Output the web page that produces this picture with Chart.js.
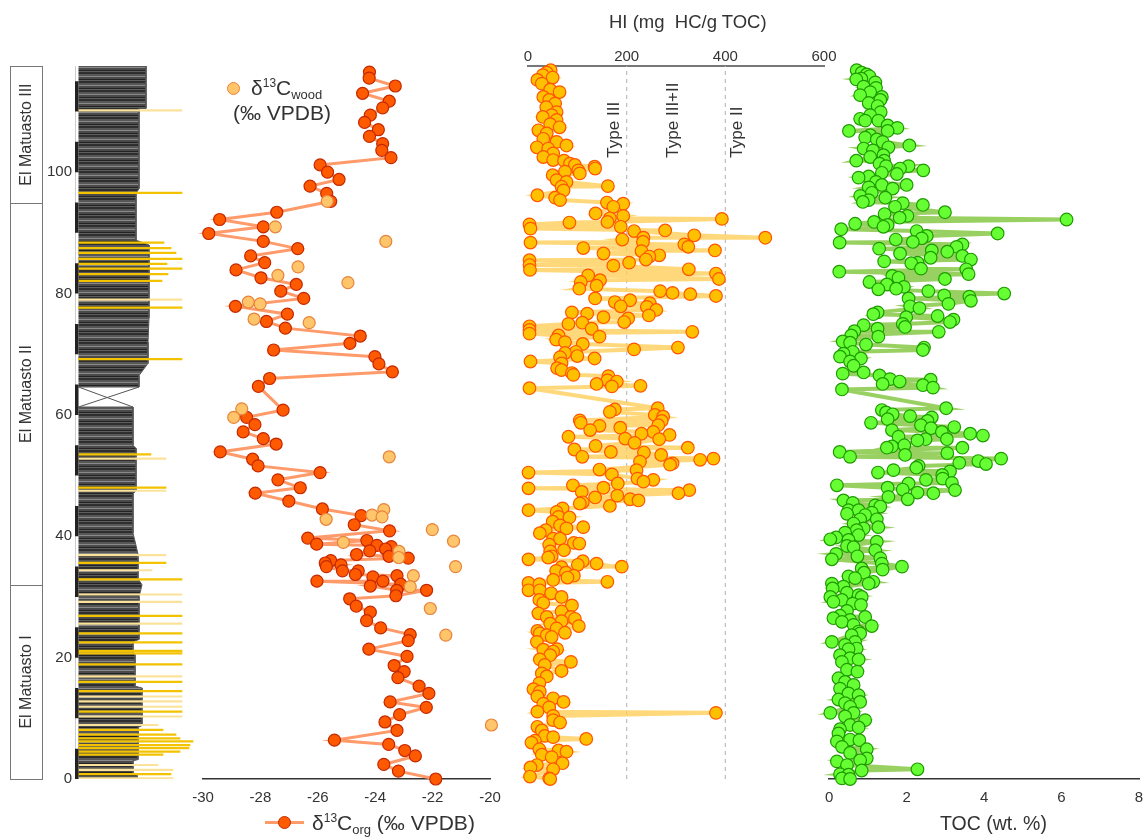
<!DOCTYPE html>
<html>
<head>
<meta charset="utf-8">
<script src="https://cdn.jsdelivr.net/npm/chart.js@4.4.0/dist/chart.umd.min.js"></script>
<style>
body { margin: 0; background: #fff; font-family: "Liberation Sans", Arial, sans-serif; color: #333; }
#page { position: relative; width: 1148px; height: 837px; overflow: hidden; }
canvas { position: absolute; top: 0; }
.lbl { position: absolute; font-size: 21px; color: #333; white-space: nowrap; line-height: 1; }
.lbl sup { font-size: 12px; vertical-align: 8px; }
.lbl sub { font-size: 13px; vertical-align: -4px; }
.dot { position: absolute; width: 11px; height: 11px; border-radius: 50%; }
</style>
</head>
<body>
<div id="page">
  <canvas id="lith" width="200" height="837" style="left:0px"></canvas>
  <canvas id="d13c" width="350" height="837" style="left:170px"></canvas>
  <canvas id="hi" width="340" height="837" style="left:500px"></canvas>
  <canvas id="toc" width="345" height="837" style="left:815px"></canvas>

  <div class="lbl" style="left:609px;top:13px;font-size:18.5px">HI (mg&nbsp; HC/g TOC)</div>
  <div class="lbl" style="left:940px;top:814px;font-size:19.5px">TOC (wt. %)</div>

  <div class="dot" style="left:227px;top:82px;background:#ffc56b;border:1px solid #e8843a"></div>
  <div class="lbl" style="left:251px;top:77px">δ<sup>13</sup>C<sub>wood</sub></div>
  <div class="lbl" style="left:233px;top:102px">(‰ VPDB)</div>

  <div style="position:absolute;left:265px;top:821px;width:39px;height:3px;background:#ff9a6a"></div>
  <div class="dot" style="left:278px;top:816px;background:#ff5a00;border:1px solid #c42800"></div>
  <div class="lbl" style="left:312px;top:812px">δ<sup>13</sup>C<sub>org</sub> (‰ VPDB)</div>
</div>

<script>
// depth scale (m)
var depthMin = 0;
var depthMax = 117.5;

// formations
var unitNames = ['El Matuasto I', 'El Matuasto II', 'El Matuasto III'];
var unitBase = [0, 32.0, 94.9];
var unitTop = [32.0, 94.9, 117.5];

// lithology column: weathering profile (relative units) vs depth
var profileUpperDepth = [117.5, 110.5, 110.5, 97.3, 96.5, 88.8, 88.0, 76.0, 72.0, 68.5, 66.5, 64.6];
var profileUpperWidth = [71, 71, 64, 64, 61, 61, 74, 74, 73, 73, 64, 64];
var profileLowerDepth = [61.3, 55.0, 54.5, 47.5, 47.0, 40.5, 38.5, 37.0, 33.0, 32.0, 30.0, 23.0, 22.6, 20.8, 20.5, 15.3, 15.0, 8.8, 8.5, 3.2, 3.0, 1.0, 0.8, 0];
var profileLowerWidth = [58, 58, 61, 61, 58, 58, 61, 63, 63, 67, 64, 64, 58, 58, 60, 60, 67, 67, 63, 63, 58, 58, 62, 62];
var coverTop = 64.6, coverBase = 61.3, coverTopWidth = 64, coverBaseWidth = 58;
var columnLeft = 3.5;
var scaleBarBlackBase = [0, 10, 20, 30, 40, 50, 60, 70, 80, 90, 100, 110];
var scaleBarStep = 5;

// ash layers
var goldAshDepth = [96.6, 88.4, 87.5, 86.7, 85.7, 84.9, 84.1, 83.2, 82.1, 77.7, 69.2, 53.5, 48.0, 35.6, 32.9, 26.9, 24.0, 22.5, 21.1, 20.7, 18.9, 16.0, 14.5, 11.1, 8.1, 7.3, 6.7, 6.2, 5.6, 5.1, 4.5, 4.0, 0.8];
var goldAshEnd = [107, 89, 96, 101, 107, 92, 107, 93, 87, 107, 107, 76, 91, 91, 107, 107, 107, 107, 107, 107, 107, 107, 107, 107, 88, 101, 105, 118, 115, 114, 105, 88, 96];
var paleAshDepth = [110.2, 79.0, 52.8, 47.5, 36.9, 34.4, 30.4, 29.2, 25.6, 16.9, 13.6, 12.8, 11.9, 10.3, 8.9, 2.3, 1.5, 0.1];
var paleAshEnd = [107, 107, 91, 91, 91, 77, 107, 107, 107, 107, 107, 107, 107, 107, 83, 83, 98, 98];

// d13C org
var orgDepth = [116.5, 115.5, 114.2, 113.0, 111.7, 110.6, 109.4, 108.2, 107.0, 105.9,
  104.7, 103.6, 102.4, 101.2, 100.0, 98.8, 97.7, 96.5, 95.2, 93.4,
  92.2, 91.0, 89.9, 88.6, 87.4, 86.2, 85.1, 83.9, 82.6, 81.5,
  80.4, 79.2, 77.9, 76.6, 75.4, 74.3, 73.0, 71.8, 70.7, 69.6,
  68.4, 67.1, 66.0, 64.7, 60.8, 59.6, 58.4, 57.2, 56.1, 55.2,
  53.9, 52.7, 51.6, 50.5, 49.3, 48.0, 47.1, 45.8, 44.5, 43.4,
  41.9, 40.9, 39.7, 39.3, 38.7, 38.5, 38.3, 37.9, 37.6, 37.0,
  36.7, 36.4, 36.0, 35.6, 35.3, 35.0, 34.3, 34.3, 33.7, 33.5,
  33.3, 32.6, 32.6, 32.1, 31.8, 31.1, 31.1, 30.2, 29.7, 28.5,
  27.5, 26.1, 24.9, 23.8, 22.8, 21.4, 20.2, 18.7, 17.7, 16.7,
  15.3, 14.1, 12.7, 11.8, 10.6, 9.4, 8.0, 6.4, 5.7, 4.7,
  3.8, 2.4, 1.3, 0.0];
var orgValue = [-24.20, -24.21, -23.30, -24.44, -23.51, -23.74, -24.17, -24.37, -23.89, -24.20,
  -23.74, -23.77, -23.45, -25.92, -25.66, -25.26, -26.27, -25.69, -25.55, -27.43,
  -29.42, -27.90, -29.80, -27.90, -26.70, -28.34, -27.85, -28.85, -27.98, -26.75,
  -27.29, -26.49, -28.87, -27.06, -27.79, -27.13, -24.52, -24.88, -27.54, -24.01,
  -23.87, -23.40, -27.68, -28.07, -27.21, -28.48, -28.19, -28.60, -27.90, -27.45,
  -29.40, -28.27, -28.08, -25.92, -27.39, -26.61, -28.18, -27.01, -25.84, -24.49,
  -24.73, -23.50, -26.35, -24.29, -26.04, -23.94, -23.44, -23.64, -24.19, -24.65,
  -23.52, -22.85, -25.55, -25.74, -25.19, -25.70, -25.14, -24.59, -24.69, -23.24,
  -24.08, -23.73, -26.03, -23.11, -24.17, -23.25, -22.21, -23.28, -24.89, -24.66,
  -24.17, -24.30, -23.81, -22.78, -22.85, -24.22, -22.89, -23.34, -22.99, -23.21,
  -22.47, -22.13, -23.48, -22.22, -23.15, -23.66, -23.24, -25.42, -23.53, -22.97,
  -22.60, -23.70, -23.19, -21.89];

// d13C wood
var woodDepth = [95.2, 91.0, 88.6, 84.4, 83.0, 81.8, 78.6, 78.3, 75.8, 75.2, 61.0, 59.6, 53.1, 44.4, 43.5, 43.2, 42.8, 41.1, 39.2, 39.0, 37.5, 36.5, 35.0, 33.5, 31.7, 28.1, 23.7, 8.9];
var woodValue = [-25.67, -27.48, -23.63, -26.69, -27.39, -24.95, -28.42, -28.01, -28.22, -26.30, -28.65, -28.93, -23.51, -23.70, -24.11, -23.76, -25.71, -22.01, -21.27, -25.11, -23.17, -23.18, -21.20, -22.67, -22.78, -22.08, -21.54, -19.95];

// HI (mg HC/g TOC)
var hiDepth = [116.8, 116.4, 116.0, 115.6, 115.2, 114.6, 113.6, 113.2, 112.4, 111.9,
  111.3, 110.7, 109.9, 109.4, 109.1, 108.6, 107.9, 107.4, 106.9, 106.4,
  105.5, 105.0, 104.4, 104.1, 103.9, 103.1, 102.5, 102.0, 101.9, 101.4,
  101.2, 100.9, 100.6, 100.3, 100.1, 99.8, 99.5, 98.7, 98.4, 97.7,
  97.6, 97.0, 96.2, 95.8, 95.4, 95.0, 94.8, 94.3, 93.2, 92.8,
  92.4, 92.3, 91.8, 91.7, 91.4, 91.0, 90.7, 90.4, 90.3, 89.6,
  89.2, 89.2, 88.9, 88.5, 88.4, 88.1, 87.7, 87.5, 87.1, 87.0,
  86.6, 86.3, 86.1, 85.6, 85.5, 85.1, 84.7, 84.6, 84.0, 83.9,
  83.3, 83.0, 82.4, 82.2, 81.9, 81.3, 80.8, 80.4, 80.1, 79.9,
  79.6, 79.2, 78.9, 78.6, 78.4, 77.9, 77.8, 77.3, 76.9, 76.7,
  76.4, 76.1, 75.9, 75.3, 75.2, 75.0, 74.6, 74.2, 74.0, 73.7,
  73.4, 73.1, 72.9, 72.4, 72.0, 71.7, 71.1, 70.8, 70.4, 70.2,
  69.7, 69.5, 69.3, 68.8, 68.5, 67.7, 67.4, 66.9, 66.6, 66.4,
  65.7, 65.5, 65.1, 64.8, 64.7, 64.4, 61.1, 60.9, 60.5, 60.0,
  59.7, 59.1,
  59.0, 58.7, 58.3, 58.2, 57.9, 57.5, 57.2, 56.9, 56.7, 56.4,
  56.1, 56.0, 55.4, 54.9, 54.6, 54.3, 53.9, 53.8, 53.4, 53.1,
  52.8, 52.6, 52.3, 52.0, 51.8, 51.0, 50.9, 50.5, 50.2, 49.5,
  49.3, 49.0, 48.7, 48.4, 48.0, 47.9, 47.6, 47.3, 47.1, 46.7,
  46.4, 46.1, 45.9, 45.6, 45.4, 45.0, 44.6, 44.3, 44.0, 43.2,
  43.1, 42.4, 41.8, 41.5, 41.3, 41.0, 40.5, 39.6, 39.6, 38.9,
  38.8, 38.6, 37.7, 37.5, 36.7, 36.5, 36.2, 35.9, 35.5, 35.3,
  35.0, 34.9, 34.3, 34.0, 33.5, 33.2, 32.8, 32.5, 32.3, 32.1,
  31.1, 31.1, 30.6, 30.0, 29.5, 29.0, 28.6, 27.6, 27.3, 26.7,
  26.7, 26.4, 26.0, 25.6, 25.2, 24.8, 24.4, 24.1, 24.0, 23.7,
  23.4, 22.6, 21.4, 21.3, 21.0, 20.4, 19.7, 19.3, 18.8, 17.8,
  17.4, 16.9, 15.8, 14.8, 14.4, 13.6, 13.3, 12.7, 12.4, 11.8,
  11.1, 10.9, 10.4, 9.7, 9.3, 8.6, 8.0, 7.1, 6.9, 6.6,
  6.3, 6.0, 4.9, 4.7, 4.5, 4.0, 3.6, 2.6, 2.3, 1.9,
  1.6, 0.4, 0.1, 0.0];
var hiValue = [46, 38, 30, 50, 19, 28, 45, 64, 31, 43,
  55, 37, 58, 48, 30, 58, 45, 64, 21, 38,
  31, 58, 78, 18, 41, 51, 31, 51, 73, 85,
  95, 135, 136, 102, 75, 105, 50, 58, 78, 162,
  68, 72, 19, 55, 65, 160, 193, 173, 137, 193,
  166, 393, 161, 84, 3, 188, 5, 278, 215, 337,
  481, 234, 191, 233, 5, 317, 325, 112, 379, 230,
  153, 266, 246, 239, 3, 205, 3, 173, 326, 4,
  381, 122, 387, 146, 107, 139, 104, 268, 293, 329,
  381, 136, 207, 176, 247, 188, 241, 260, 89, 120,
  245, 153, 203, 195, 110, 82, 3, 129, 3, 333,
  3, 62, 145, 57, 75, 111, 304, 215, 97, 75,
  100, 65, 135, 5, 68, 59, 68, 89, 92, 163,
  161, 180, 139, 228, 170, 3, 263, 176, 166, 257,
  274, 105,
  271, 107, 264, 145, 187, 126, 254, 230, 287, 82,
  197, 266, 216, 137, 324, 94, 168, 235, 270, 110,
  376, 349, 227, 293, 288, 145, 220, 1, 170, 222,
  254, 234, 182, 91, 153, 1, 327, 109, 305, 181,
  136, 207, 224, 111, 105, 166, 70, 1, 58, 62,
  84, 50, 65, 112, 78, 36, 24, 51, 65, 93,
  104, 43, 73, 45, 48, 41, 1, 111, 139, 101,
  190, 68, 57, 77, 93, 80, 51, 161, 1, 23,
  1, 24, 47, 68, 23, 31, 89, 68, 21, 38,
  87, 95, 68, 45, 103, 58, 19, 75, 24, 38,
  48, 18, 59, 31, 51, 45, 24, 87, 34, 68,
  28, 38, 23, 11, 24, 19, 51, 72, 31, 43,
  19, 381, 51, 51, 65, 19, 28, 34, 51, 118,
  14, 7, 23, 62, 78, 28, 48, 70, 18, 5,
  51, 4, 43, 45];
var hiTypeBounds = [200, 400];

// TOC (wt. %)
var tocDepth = [116.8, 116.4, 116.1, 115.8, 115.4, 115.3, 114.8, 114.1, 113.9, 113.2,
  112.7, 112.4, 111.9, 111.4, 110.9, 109.9, 109.4, 108.8, 108.5, 108.5,
  107.7, 107.3, 106.8, 106.8, 106.1, 105.7, 105.4, 105.0, 104.4, 104.1,
  103.9, 103.6, 102.8, 102.5, 101.9, 101.9, 101.4, 101.0, 101.0, 100.6,
  100.3, 99.9, 99.7, 99.3, 99.1, 98.4, 97.9, 97.9, 97.5, 97.3,
  96.6, 96.1, 95.8, 95.4, 95.1, 94.9, 94.6, 94.3, 93.4, 93.1,
  92.8, 92.5, 92.2, 91.8, 91.5, 91.3, 91.0, 90.6, 90.3, 89.9,
  89.5, 89.1, 88.9, 88.5, 88.4, 88.1, 87.7, 87.4, 87.1, 86.9,
  86.6, 86.2, 85.9, 85.6, 85.3, 85.1, 85.0, 84.1, 84.0, 83.6,
  83.2, 82.9, 82.6, 82.4, 81.9, 81.5, 81.1, 80.8, 80.7, 80.4,
  80.0, 79.7, 79.5, 79.2, 78.8, 78.3, 77.9, 77.6, 76.9, 76.6,
  76.3, 76.1, 75.7, 75.3, 75.0, 74.8, 74.5, 74.2, 73.8, 73.7,
  73.1, 72.9, 72.1, 71.9, 71.6, 71.1, 70.7, 70.4, 70.1, 69.6,
  69.3, 68.8, 68.1, 67.0, 66.8, 66.5, 65.9, 65.8, 65.5, 65.1,
  64.9, 64.5, 64.2, 61.1, 60.8, 60.4, 60.1, 59.8, 59.6, 59.3,
  59.0, 58.7, 58.3, 58.0, 57.8, 57.5, 57.2, 56.9, 56.6, 56.4,
  56.0, 56.0, 55.8,
  55.0, 54.8, 54.6, 54.6, 53.9, 53.7, 53.4, 53.1, 52.8, 52.4,
  52.1, 51.9, 51.6, 51.3, 50.9, 50.7, 50.5, 50.1, 49.5, 49.3,
  48.8, 48.7, 48.4, 48.0, 47.7, 47.6, 47.2, 47.1, 46.5, 46.1,
  45.9, 45.5, 45.1, 44.9, 44.3, 44.3, 43.9, 43.7, 43.5, 42.8,
  42.8, 42.1, 41.5, 41.3, 41.0, 40.6, 40.2, 39.8, 39.5, 39.4,
  39.1, 38.4, 38.2, 37.7, 37.1, 36.7, 36.4, 36.2, 35.5, 35.0,
  34.7, 34.5, 34.0, 33.4, 33.1, 32.5, 32.2, 32.2, 31.7, 31.4,
  30.7, 30.3, 30.0, 30.0, 29.5, 29.2, 28.9, 28.7, 27.7, 26.9,
  26.7, 26.5, 26.2, 25.9, 25.4, 25.2, 24.3, 24.0, 23.7, 22.6,
  22.6, 22.1, 21.5, 21.4, 20.4, 19.9, 19.7, 19.3, 18.0, 17.7,
  16.6, 16.0, 15.5, 14.9, 14.1, 13.8, 13.1, 12.7, 12.5, 11.9,
  10.9, 10.9, 10.3, 9.7, 8.9, 8.5, 8.2, 7.5, 6.5, 6.4,
  6.2, 5.3, 4.9, 4.3, 3.4, 3.1, 2.9, 2.3, 1.6, 1.4,
  0.8, 0.7, 0.1, 0.0];
var tocValue = [0.71, 0.84, 0.97, 1.04, 0.83, 0.70, 1.19, 0.89, 1.21, 1.06,
  0.80, 1.36, 1.32, 1.02, 1.25, 1.33, 1.06, 0.80, 0.93, 1.27,
  1.51, 1.76, 0.51, 1.51, 1.06, 0.93, 1.23, 1.38, 2.07, 1.53,
  0.89, 1.13, 1.40, 1.06, 0.70, 1.42, 1.30, 1.47, 2.05, 1.83,
  2.43, 1.36, 1.75, 1.02, 0.76, 1.21, 2.00, 1.36, 1.02, 1.64,
  1.10, 0.80, 1.45, 1.02, 0.87, 1.90, 2.42, 1.70, 2.99, 1.43,
  2.02, 1.82, 6.13, 1.16, 0.67, 1.51, 1.40, 0.31, 2.26, 4.35,
  2.52, 2.39, 1.72, 2.16, 0.27, 3.44, 3.29, 1.29, 2.65, 3.05,
  1.83, 3.44, 2.62, 3.66, 1.42, 2.28, 2.12, 2.37, 3.54, 0.26,
  3.60, 1.63, 1.79, 2.99, 1.04, 1.49, 1.93, 1.73, 1.27, 2.56,
  4.52, 2.97, 3.62, 2.05, 3.66, 3.08, 2.09, 2.33, 1.25, 1.14,
  2.80, 1.99, 3.21, 3.12, 1.90, 0.89, 1.96, 1.25, 0.65, 2.83,
  0.57, 1.27, 0.35, 0.54, 0.95, 2.45, 2.42, 0.61, 0.37, 0.28,
  0.82, 0.54, 0.63, 0.89, 0.35, 1.30, 1.57, 2.62, 1.82, 1.38,
  2.42, 2.68, 0.33, 3.02, 1.36, 1.47, 1.64, 2.09, 2.65, 1.51,
  2.54, 1.08, 2.37, 3.23, 2.63, 1.62, 2.91, 3.64, 3.97, 1.79,
  2.49, 3.04, 2.28,
  1.94, 1.62, 1.49, 3.44, 0.27, 3.05, 1.96, 0.54, 4.44, 3.85,
  3.36, 4.05, 2.31, 2.25, 1.66, 3.12, 1.26, 2.92, 2.93, 2.50,
  3.17, 2.05, 0.20, 1.51, 1.90, 3.25, 2.28, 2.69, 1.53, 2.03,
  0.37, 0.61, 1.19, 1.32, 0.50, 0.76, 1.10, 0.46, 0.93, 0.80,
  1.23, 0.63, 1.27, 0.89, 0.71, 0.41, 0.76, 0.18, 0.03, 0.50,
  1.23, 0.46, 0.63, 1.19, 0.18, 0.73, 1.32, 0.07, 1.36, 1.88,
  0.84, 1.38, 0.90, 0.50, 0.67, 1.14, 0.07, 1.02, 0.37, 0.09,
  0.46, 0.76, 0.03, 0.84, 0.33, 0.11, 0.61, 0.82, 0.46, 0.28,
  0.93, 0.11, 0.54, 0.33, 0.63, 1.10, 0.76, 0.80, 0.58, 0.07,
  0.67, 0.41, 0.71, 0.50, 0.28, 0.54, 0.76, 0.33, 0.46, 0.73,
  0.24, 0.41, 0.63, 0.28, 0.50, 0.76, 0.24, 0.80, 0.41, 0.54,
  0.03, 0.63, 0.41, 0.93, 0.54, 0.76, 0.28, 0.24, 0.54, 0.78,
  0.20, 0.33, 0.97, 0.54, 0.97, 0.80, 0.20, 0.46, 2.28, 0.84,
  0.28, 0.50, 0.33, 0.54];

var FONT = '"Liberation Sans", Arial, sans-serif';
Chart.defaults.font.family = FONT;
Chart.defaults.color = '#333';

function pairs(xs, ys) {
  return xs.map(function(x, i) { return { x: x, y: ys[i] }; });
}

var depthAxis = { type: 'linear', min: depthMin, max: depthMax, display: false };
var baseOptions = {
  responsive: false,
  animation: false,
  events: [],
  plugins: { legend: { display: false }, tooltip: { enabled: false } }
};
var tickFont = { size: 15 };

// ---------- lithology column ----------
function stripePattern() {
  var c = document.createElement('canvas');
  c.width = 4; c.height = 9;
  var g = c.getContext('2d');
  var rows = ['#2e2e2e', '#2e2e2e', '#575757', '#575757', '#8a8a8a', '#4a4a4a', '#4a4a4a', '#232323', '#5e5e5e'];
  rows.forEach(function(col, i) { g.fillStyle = col; g.fillRect(0, i, 4, 1); });
  return g.createPattern(c, 'repeat');
}
var pattern = stripePattern();

var unitBoxes = {
  id: 'unitBoxes',
  afterDraw: function(chart) {
    var ctx = chart.ctx, y = chart.scales.y;
    ctx.save();
    ctx.strokeStyle = '#777';
    ctx.lineWidth = 1;
    ctx.fillStyle = '#333';
    ctx.font = '16px ' + FONT;
    ctx.textAlign = 'center';
    ctx.textBaseline = 'middle';
    unitNames.forEach(function(name, i) {
      var top = y.getPixelForValue(unitTop[i]);
      var bot = y.getPixelForValue(unitBase[i]);
      ctx.strokeRect(10.5, Math.round(top) + 0.5, 32, Math.round(bot - top));
      ctx.save();
      ctx.translate(27, (top + bot) / 2);
      ctx.rotate(-Math.PI / 2);
      ctx.fillText(name, 0, 0);
      ctx.restore();
    });
    ctx.restore();
  }
};

var scaleBarData = [];
scaleBarBlackBase.forEach(function(b) {
  scaleBarData.push({ x: columnLeft / 2, y: b });
  scaleBarData.push({ x: columnLeft / 2, y: b + scaleBarStep });
  scaleBarData.push({ x: null, y: b + scaleBarStep + 2 });
});

function ashBars(depths, ends) {
  return depths.map(function(d, i) { return { x: [columnLeft, ends[i]], y: d }; });
}

new Chart(document.getElementById('lith'), {
  type: 'line',
  data: {
    datasets: [
      { type: 'line', indexAxis: 'y', data: pairs(profileUpperWidth, profileUpperDepth),
        fill: { value: columnLeft }, backgroundColor: pattern, borderColor: '#555', borderWidth: 1,
        pointRadius: 0, order: 6 },
      { type: 'line', indexAxis: 'y', data: pairs(profileLowerWidth, profileLowerDepth),
        fill: { value: columnLeft }, backgroundColor: pattern, borderColor: '#555', borderWidth: 1,
        pointRadius: 0, order: 6 },
      { type: 'line', indexAxis: 'y',
        data: [{ x: columnLeft, y: coverTop }, { x: coverBaseWidth, y: coverBase }, { x: columnLeft, y: coverBase },
               { x: coverTopWidth, y: coverTop }, { x: columnLeft, y: coverTop }],
        borderColor: '#555', borderWidth: 1, pointRadius: 0, fill: false, order: 4 },
      { type: 'bar', indexAxis: 'y', grouped: false, data: ashBars(paleAshDepth, paleAshEnd),
        backgroundColor: '#fbe29a', barThickness: 1.5, order: 3 },
      { type: 'bar', indexAxis: 'y', grouped: false, data: ashBars(goldAshDepth, goldAshEnd),
        backgroundColor: '#f3c200', barThickness: 1.6, order: 2 },
      { type: 'line', indexAxis: 'y', data: [{ x: 0, y: depthMin }, { x: 0, y: depthMax }],
        borderColor: '#999', borderWidth: 1, pointRadius: 0, fill: false, order: 1 },
      { type: 'line', indexAxis: 'y', data: scaleBarData, spanGaps: false,
        borderColor: '#222', borderWidth: 3.5, borderCapStyle: 'butt', pointRadius: 0, fill: false, order: 0 }
    ]
  },
  options: Object.assign({}, baseOptions, {
    indexAxis: 'y',
    layout: { padding: { top: 66, bottom: 58, left: 0, right: 5 } },
    scales: {
      x: { type: 'linear', min: 0, max: 120, offset: false, display: false },
      y: { type: 'linear', min: depthMin, max: depthMax, offset: false,
           grid: { display: false, tickLength: 0 }, border: { display: false },
           ticks: { stepSize: 20, includeBounds: false, padding: 3, color: '#333', font: tickFont },
           afterFit: function(s) { s.width = 75; } }
    }
  }),
  plugins: [unitBoxes]
});

// ---------- d13C ----------
new Chart(document.getElementById('d13c'), {
  type: 'scatter',
  data: {
    datasets: [
      { data: pairs(woodValue, woodDepth), pointRadius: 6, pointBackgroundColor: '#ffc56b',
        pointBorderColor: '#e8843a', pointBorderWidth: 1.2, clip: false, order: 0 },
      { data: pairs(orgValue, orgDepth), showLine: true, borderColor: '#ff9a6a', borderWidth: 3,
        pointRadius: 6, pointBackgroundColor: '#ff5a00', pointBorderColor: '#c42800',
        pointBorderWidth: 1.2, clip: false, order: 1 }
    ]
  },
  options: Object.assign({}, baseOptions, {
    layout: { padding: { top: 66, left: 33, right: 30, bottom: 0 } },
    scales: {
      x: { type: 'linear', min: -30, max: -20, position: 'bottom',
           grid: { display: false, tickLength: 0 }, border: { color: '#333', width: 1.5 },
           ticks: { stepSize: 2, padding: 10, color: '#333', font: tickFont },
           afterFit: function(s) { s.height = 58; } },
      y: depthAxis
    }
  })
});

// ---------- HI ----------
var typeLabels = {
  id: 'typeLabels',
  afterDatasetsDraw: function(chart) {
    var ctx = chart.ctx, x = chart.scales.x, y = chart.scales.y;
    var names = ['Type III', 'Type III+II', 'Type II'];
    var at = [174, 294, 424];
    ctx.save();
    ctx.fillStyle = '#333';
    ctx.font = '17px ' + FONT;
    ctx.textAlign = 'left';
    ctx.textBaseline = 'middle';
    names.forEach(function(n, i) {
      ctx.save();
      ctx.translate(x.getPixelForValue(at[i]), y.getPixelForValue(102.4));
      ctx.rotate(-Math.PI / 2);
      ctx.fillText(n, 0, 0);
      ctx.restore();
    });
    ctx.restore();
  }
};

var hiSets = hiTypeBounds.map(function(v) {
  return { data: [{ x: v, y: depthMin }, { x: v, y: depthMax }], showLine: true, pointRadius: 0,
           borderColor: '#bdbdbd', borderWidth: 1.2, borderDash: [4, 4], order: 5 };
});
hiSets.push({ data: pairs(hiValue, hiDepth), showLine: true, borderColor: 'rgba(255,206,90,0.8)',
  borderWidth: 4, pointRadius: 6.3, pointBackgroundColor: '#ffc000', pointBorderColor: '#ff5400',
  pointBorderWidth: 1.2, clip: false, order: 1 });

new Chart(document.getElementById('hi'), {
  type: 'scatter',
  data: { datasets: hiSets },
  options: Object.assign({}, baseOptions, {
    layout: { padding: { top: 0, left: 28, right: 16, bottom: 58 } },
    scales: {
      x: { type: 'linear', min: 0, max: 600, position: 'top',
           grid: { display: false, tickLength: 0 }, border: { color: '#777', width: 2 },
           ticks: { stepSize: 200, padding: 0, color: '#333', font: tickFont },
           afterFit: function(s) { s.height = 66; } },
      y: depthAxis
    }
  }),
  plugins: [typeLabels]
});

// ---------- TOC ----------
new Chart(document.getElementById('toc'), {
  type: 'scatter',
  data: {
    datasets: [
      { data: pairs(tocValue, tocDepth), showLine: true, borderColor: 'rgba(135,200,70,0.85)',
        borderWidth: 4, pointRadius: 6.3, pointBackgroundColor: '#66ff33', pointBorderColor: '#1f9a00',
        pointBorderWidth: 1.2, clip: false }
    ]
  },
  options: Object.assign({}, baseOptions, {
    layout: { padding: { top: 66, left: 14, right: 21, bottom: 0 } },
    scales: {
      x: { type: 'linear', min: 0, max: 8, position: 'bottom',
           grid: { display: false, tickLength: 0 }, border: { color: '#333', width: 1.5 },
           ticks: { stepSize: 2, padding: 10, color: '#333', font: tickFont },
           afterFit: function(s) { s.height = 58; } },
      y: depthAxis
    }
  })
});
</script>
</body>
</html>
